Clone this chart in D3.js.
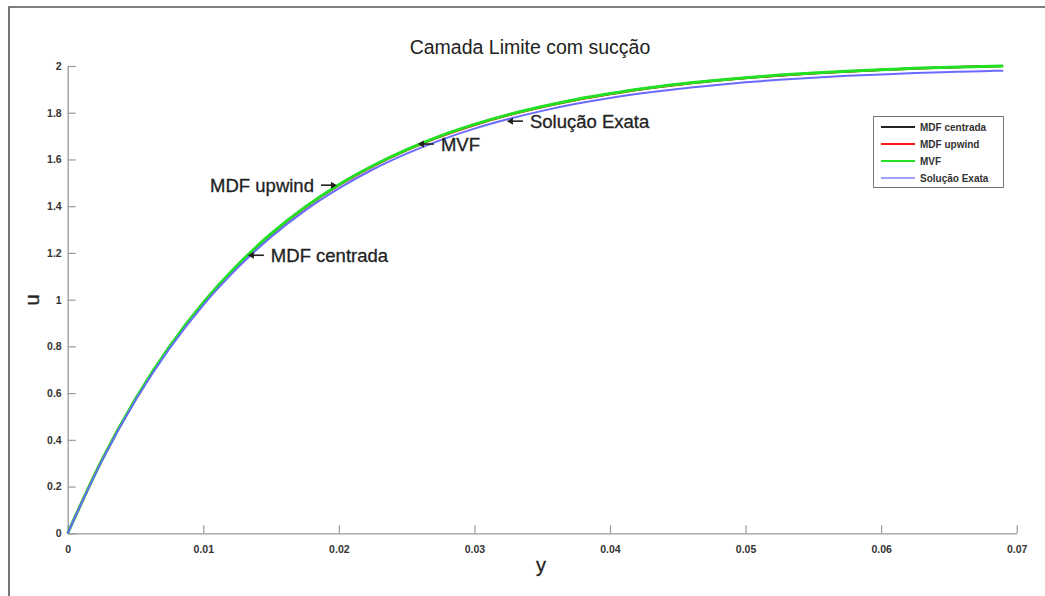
<!DOCTYPE html>
<html>
<head>
<meta charset="utf-8">
<script src="https://cdn.jsdelivr.net/npm/d3@7"></script>
<style>
  html, body { margin: 0; padding: 0; background: #fff; }
  svg { display: block; }
  text { font-family: "Liberation Sans", Arial, Helvetica, sans-serif; }
</style>
</head>
<body>
<svg id="chart" width="1045" height="596"></svg>
<script>
// Distance from the wall (y) and velocity (u) samples
const yPos = [0, 0.0025, 0.005, 0.0075, 0.01, 0.0125, 0.015, 0.0175, 0.02, 0.0225,
  0.025, 0.0275, 0.03, 0.0325, 0.035, 0.0375, 0.04, 0.0425, 0.045, 0.0475,
  0.05, 0.0525, 0.055, 0.0575, 0.06, 0.0625, 0.065, 0.0675, 0.069];

const uCentrada = [0, 0.311, 0.575, 0.798, 0.987, 1.145, 1.281, 1.395, 1.491, 1.572,
  1.641, 1.700, 1.749, 1.791, 1.826, 1.856, 1.881, 1.903, 1.921, 1.936,
  1.949, 1.960, 1.969, 1.977, 1.983, 1.990, 1.994, 1.998, 2.000];
const uUpwind = [0, 0.310, 0.573, 0.796, 0.985, 1.143, 1.279, 1.393, 1.489, 1.570,
  1.639, 1.698, 1.747, 1.789, 1.824, 1.854, 1.879, 1.901, 1.919, 1.935,
  1.948, 1.959, 1.968, 1.976, 1.983, 1.989, 1.994, 1.998, 2.000];
const uMVF = [0, 0.311, 0.575, 0.798, 0.987, 1.146, 1.282, 1.396, 1.492, 1.573,
  1.642, 1.701, 1.750, 1.792, 1.827, 1.857, 1.882, 1.904, 1.922, 1.937,
  1.950, 1.961, 1.970, 1.978, 1.984, 1.990, 1.995, 1.998, 2.000];
const uExata = [0, 0.308, 0.569, 0.790, 0.977, 1.134, 1.268, 1.381, 1.476, 1.557,
  1.625, 1.683, 1.732, 1.773, 1.808, 1.838, 1.863, 1.884, 1.902, 1.917,
  1.930, 1.941, 1.950, 1.958, 1.964, 1.970, 1.974, 1.978, 1.980];

const seriesNames = ["MDF centrada", "MDF upwind", "MVF", "Solução Exata"];
const seriesColors = ["#222222", "#ff1a1a", "#22e022", "#6a6aff"];
const seriesWidths = [2.2, 2.2, 3, 2];
const seriesValues = [uCentrada, uUpwind, uMVF, uExata];

const xTicks = [0, 0.01, 0.02, 0.03, 0.04, 0.05, 0.06, 0.07];
const xTickLabels = ["0", "0.01", "0.02", "0.03", "0.04", "0.05", "0.06", "0.07"];
const yTicks = [0, 0.2, 0.4, 0.6, 0.8, 1, 1.2, 1.4, 1.6, 1.8, 2];
const yTickLabels = ["0", "0.2", "0.4", "0.6", "0.8", "1", "1.2", "1.4", "1.6", "1.8", "2"];

// Arrow annotations: [label, y, u, arrow side]
const notes = [
  ["MDF centrada", 0.01329, 1.19, "left"],
  ["MDF upwind", 0.01986, 1.49, "right"],
  ["MVF", 0.02583, 1.666, "left"],
  ["Solução Exata", 0.0324, 1.764, "left"]
];

const svg = d3.select("#chart");

// outer figure frame
svg.append("path")
  .attr("d", "M9,600 L9,7 L1050,7")
  .attr("fill", "none").attr("stroke", "#555").attr("stroke-width", 1.6);

const x = d3.scaleLinear().domain([0, 0.07]).range([67.7, 1016.7]);
const y = d3.scaleLinear().domain([0, 2]).range([533.3, 66]);

// axes (ticks point inward)
const xAxis = d3.axisBottom(x).tickValues(xTicks)
  .tickFormat((d, i) => xTickLabels[i]).tickSizeInner(-8).tickSizeOuter(0).tickPadding(12);
const yAxis = d3.axisLeft(y).tickValues(yTicks)
  .tickFormat((d, i) => yTickLabels[i]).tickSizeInner(-8).tickSizeOuter(0).tickPadding(6);

const gx = svg.append("g").attr("transform", `translate(0,${y(0)})`).call(xAxis);
const gy = svg.append("g").attr("transform", `translate(${x(0)},0)`).call(yAxis);
[gx, gy].forEach(g => {
  g.select(".domain").attr("stroke", "#999").attr("stroke-width", 1.3);
  g.selectAll(".tick line").attr("stroke", "#999").attr("stroke-width", 1.2);
  g.selectAll(".tick text").attr("fill", "#333").attr("font-size", 10.5)
    .attr("font-weight", "bold")
    .attr("font-family", "'Liberation Sans', Arial, sans-serif");
});
gy.selectAll(".tick text").attr("dy", "0.32em");

// curves
const line = d3.line()
  .x((d, i) => x(yPos[i]))
  .y(d => y(d))
  .curve(d3.curveMonotoneX);

seriesValues.forEach((vals, k) => {
  svg.append("path")
    .datum(vals)
    .attr("d", line)
    .attr("fill", "none")
    .attr("stroke", seriesColors[k])
    .attr("stroke-width", seriesWidths[k])
    .attr("stroke-linejoin", "round");
});

// title and axis labels
svg.append("text").attr("x", 530).attr("y", 54).attr("text-anchor", "middle")
  .attr("font-size", 19.5).attr("fill", "#222").text("Camada Limite com sucção");
svg.append("text").attr("x", 541).attr("y", 572).attr("text-anchor", "middle")
  .attr("font-size", 20).attr("fill", "#222").attr("stroke", "#222").attr("stroke-width", 0.3)
  .text("y");
svg.append("text").attr("transform", "translate(39,300) rotate(-90)")
  .attr("text-anchor", "middle").attr("font-size", 20).attr("fill", "#222")
  .attr("stroke", "#222").attr("stroke-width", 0.3).text("u");

// annotations: label plus a drawn arrow whose tip sits on the curve
const arrowLen = 16, gap = 7;
notes.forEach(([label, xv, uv, side]) => {
  const px = x(xv), py = y(uv);
  const g = svg.append("g").attr("stroke", "#222").attr("fill", "#222");
  const dir = side === "left" ? 1 : -1;          // direction from tip to tail
  const tail = px + dir * arrowLen;
  g.append("line").attr("x1", tail).attr("y1", py).attr("x2", px + dir * 3).attr("y2", py)
    .attr("stroke-width", 1.6);
  g.append("path")
    .attr("d", `M${px},${py} L${px + dir * 6},${py - 3.5} L${px + dir * 6},${py + 3.5} Z`)
    .attr("stroke", "none");
  svg.append("text")
    .attr("x", tail + dir * gap).attr("y", py).attr("dy", "0.36em")
    .attr("text-anchor", side === "left" ? "start" : "end")
    .attr("font-size", 18.5).attr("fill", "#222")
    .attr("stroke", "#222").attr("stroke-width", 0.3)
    .text(label);
});

// legend
const lg = svg.append("g");
lg.append("rect").attr("x", 873.5).attr("y", 116.5).attr("width", 130).attr("height", 71)
  .attr("fill", "#fff").attr("stroke", "#777").attr("stroke-width", 1);
const legendY = [127, 144, 161, 178];
seriesNames.forEach((name, k) => {
  lg.append("line")
    .attr("x1", 881).attr("x2", 915)
    .attr("y1", legendY[k]).attr("y2", legendY[k])
    .attr("stroke", k === 3 ? "#a0a0ff" : seriesColors[k]).attr("stroke-width", 2.2);
  lg.append("text")
    .attr("x", 920).attr("y", legendY[k]).attr("dy", "0.35em")
    .attr("font-size", 10).attr("font-weight", "bold").attr("fill", "#333")
    .text(name);
});
</script>
</body>
</html>
